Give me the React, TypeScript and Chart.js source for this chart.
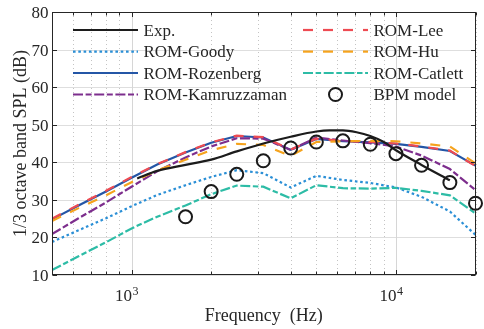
import React, { useEffect, useRef } from "react";
import { Chart, registerables } from "chart.js";

Chart.register(...registerables);

// ---- data ----
const bandFreqs = [500, 630, 800, 1000, 1250, 1600, 2000, 2500, 3150, 4000, 5000, 6300, 8000, 10000, 12500, 16000, 20000];
const romGoody = [18.8, 21.9, 25.1, 28.3, 31.3, 33.9, 36.1, 37.9, 37.1, 33.3, 36.4, 35.3, 34.5, 33.3, 30.8, 26.9, 20.7];
const romRozenberg = [24.8, 28.5, 32.2, 35.9, 39.4, 42.6, 45.2, 47.0, 46.6, 43.3, 46.2, 45.6, 45.3, 44.9, 44.1, 43.0, 39.1];
const romKamruzzaman = [20.9, 25.1, 29.3, 33.5, 37.6, 41.3, 44.2, 46.4, 46.3, 43.3, 46.6, 45.8, 45.1, 44.2, 41.8, 38.2, 32.6];
const romLee = [25.0, 28.7, 32.4, 36.1, 39.5, 42.7, 45.3, 47.1, 46.7, 43.4, 46.3, 45.7, 45.4, 45.0, 44.2, 43.1, 39.0];
const romHu = [24.4, 27.8, 31.2, 34.7, 37.8, 40.7, 43.2, 44.9, 44.6, 41.7, 45.4, 45.6, 45.7, 45.6, 45.0, 44.2, 39.7];
const romCatlett = [11.3, 15.0, 18.7, 22.4, 25.5, 28.5, 31.5, 33.8, 33.5, 30.4, 33.9, 33.1, 33.0, 33.2, 32.4, 31.2, 26.4];

const expFreqs = [1050, 1250, 1600, 2000, 2500, 3150, 4000, 5000, 5600, 6300, 7100, 8000, 9000, 10000, 12500, 16000];
const expSPL = [35.7, 37.7, 39.3, 40.7, 42.9, 45.0, 46.8, 48.2, 48.5, 48.5, 48.0, 47.0, 45.4, 43.2, 39.3, 35.2];

const bpmFreqs = [1600, 2000, 2500, 3150, 4000, 5000, 6300, 8000, 10000, 12500, 16000, 20000];
const bpmSPL = [25.5, 32.2, 36.8, 40.4, 43.8, 45.4, 45.7, 44.8, 42.3, 39.2, 34.6, 29.1];

const yTicks = [10, 20, 30, 40, 50, 60, 70, 80];
const xMajorTicks = [1000, 10000];
const xMajorExp = ["3", "4"];
const xMinorTicks = [500, 600, 700, 800, 900, 2000, 3000, 4000, 5000, 6000, 7000, 8000, 9000, 20000];

const FONT = "'Liberation Serif', 'Times New Roman', serif";
const TXT = "#262626";

const toPts = (xs: number[], ys: number[]) => xs.map((x, i) => ({ x, y: ys[i] }));

type Entry = { label: string; color: string; dash: number[]; width: number; marker?: boolean };
const legendLeft: Entry[] = [
  { label: "Exp.", color: "#1c1c1c", dash: [], width: 2.2 },
  { label: "ROM-Goody", color: "#2a8fd6", dash: [2.6, 2.7], width: 2.2 },
  { label: "ROM-Rozenberg", color: "#2456a6", dash: [], width: 2.2 },
  { label: "ROM-Kamruzzaman", color: "#7d2e8d", dash: [10, 2.6, 6, 2.6], width: 2.2 },
];
const legendRight: Entry[] = [
  { label: "ROM-Lee", color: "#ee4b52", dash: [10, 10], width: 2.2 },
  { label: "ROM-Hu", color: "#f5a31d", dash: [10, 10], width: 2.2 },
  { label: "ROM-Catlett", color: "#2dbca6", dash: [10, 2.6, 5.5, 2.6], width: 2.2 },
  { label: "BPM model", color: "#1a1a1a", dash: [], width: 2, marker: true },
];

const axesPlugin = {
  id: "matlabAxes",
  beforeDatasetsDraw(chart: any) {
    const { ctx, chartArea: a, scales } = chart;
    const xs = scales.x, ys = scales.y;
    ctx.save();
    ctx.lineWidth = 1;
    // y grid
    ctx.strokeStyle = "#dedede";
    ctx.setLineDash([]);
    yTicks.forEach((v) => {
      const y = Math.round(ys.getPixelForValue(v)) + 0.5;
      ctx.beginPath();
      ctx.moveTo(a.left, y);
      ctx.lineTo(a.right, y);
      ctx.stroke();
    });
    // x major grid
    ctx.strokeStyle = "#d6d6d6";
    xMajorTicks.forEach((v) => {
      const x = Math.round(xs.getPixelForValue(v)) + 0.5;
      ctx.beginPath();
      ctx.moveTo(x, a.top);
      ctx.lineTo(x, a.bottom);
      ctx.stroke();
    });
    // x minor grid (dotted)
    ctx.strokeStyle = "#c4c4c4";
    ctx.setLineDash([1, 3]);
    xMinorTicks.forEach((v) => {
      const x = Math.round(xs.getPixelForValue(v)) + 0.5;
      ctx.beginPath();
      ctx.moveTo(x, a.top);
      ctx.lineTo(x, a.bottom);
      ctx.stroke();
    });
    ctx.restore();
  },
  afterDraw(chart: any) {
    const { ctx, chartArea: a, scales } = chart;
    const xs = scales.x, ys = scales.y;
    ctx.save();
    ctx.setLineDash([]);
    ctx.strokeStyle = TXT;
    ctx.lineWidth = 1;
    const L = Math.round(a.left) + 0.5, R = Math.round(a.right) - 0.5;
    const T = Math.round(a.top) + 0.5, B = Math.round(a.bottom) - 0.5;
    ctx.strokeRect(L, T, R - L, B - T);
    // ticks
    const tick = (x1: number, y1: number, x2: number, y2: number) => {
      ctx.beginPath();
      ctx.moveTo(x1, y1);
      ctx.lineTo(x2, y2);
      ctx.stroke();
    };
    yTicks.forEach((v) => {
      const y = Math.round(ys.getPixelForValue(v)) + 0.5;
      tick(L, y, L + 4.5, y);
      tick(R, y, R - 4.5, y);
    });
    xMajorTicks.forEach((v) => {
      const x = Math.round(xs.getPixelForValue(v)) + 0.5;
      tick(x, B, x, B - 4.5);
      tick(x, T, x, T + 4.5);
    });
    xMinorTicks.forEach((v) => {
      const x = Math.round(xs.getPixelForValue(v)) + 0.5;
      tick(x, B, x, B - 3);
      tick(x, T, x, T + 3);
    });
    // y tick labels
    ctx.fillStyle = TXT;
    ctx.font = `17px ${FONT}`;
    ctx.textAlign = "right";
    ctx.textBaseline = "alphabetic";
    yTicks.forEach((v) => {
      const y = ys.getPixelForValue(v);
      ctx.fillText(String(v), a.left - 3.5, y + 6);
    });
    // x tick labels 10^n
    xMajorTicks.forEach((v, i) => {
      const x = xs.getPixelForValue(v);
      ctx.font = `17px ${FONT}`;
      ctx.textAlign = "right";
      ctx.fillText("10", x + 0.5, a.bottom + 25.5);
      ctx.font = `12px ${FONT}`;
      ctx.textAlign = "left";
      ctx.fillText(xMajorExp[i], x + 1, a.bottom + 19.5);
    });
    // axis titles
    ctx.font = `18px ${FONT}`;
    ctx.textAlign = "center";
    ctx.fillText("Frequency  (Hz)", (a.left + a.right) / 2, 321);
    ctx.save();
    ctx.translate(25.5, (a.top + a.bottom) / 2);
    ctx.rotate(-Math.PI / 2);
    ctx.fillText("1/3 octave band SPL (dB)", 0, 0);
    ctx.restore();
    // legend
    const rowY = [30, 51.6, 73, 94.5];
    const drawCol = (items: Entry[], x1: number, x2: number, tx: number) => {
      items.forEach((e, i) => {
        const y = rowY[i];
        ctx.strokeStyle = e.color;
        ctx.lineWidth = e.width;
        if (e.marker) {
          ctx.setLineDash([]);
          ctx.beginPath();
          ctx.arc((x1 + x2) / 2, y, 6.5, 0, Math.PI * 2);
          ctx.stroke();
        } else {
          ctx.setLineDash(e.dash);
          ctx.beginPath();
          ctx.moveTo(x1, y);
          ctx.lineTo(x2, y);
          ctx.stroke();
        }
        ctx.setLineDash([]);
        ctx.fillStyle = TXT;
        ctx.font = `17px ${FONT}`;
        ctx.textAlign = "left";
        ctx.fillText(e.label, tx, y + 5.8);
      });
    };
    drawCol(legendLeft, 73, 138, 143.5);
    drawCol(legendRight, 303, 368, 373.5);
    ctx.restore();
  },
};

export default function App() {
  const ref = useRef<HTMLCanvasElement>(null);
  useEffect(() => {
    if (!ref.current) return;
    const line = (label: string, ys: number[], e: Entry, order: number) => ({
      label,
      data: toPts(bandFreqs, ys),
      borderColor: e.color,
      backgroundColor: e.color,
      borderWidth: e.width,
      borderDash: e.dash,
      pointRadius: 0,
      fill: false,
      tension: 0,
      order,
    });
    const chart = new Chart(ref.current, {
      type: "line",
      data: {
        datasets: [
          {
            label: "BPM model",
            data: toPts(bpmFreqs, bpmSPL),
            showLine: false,
            pointRadius: 6.5,
            pointBorderWidth: 2,
            pointBorderColor: "#1a1a1a",
            pointBackgroundColor: "rgba(0,0,0,0)",
            borderColor: "#1a1a1a",
            backgroundColor: "rgba(0,0,0,0)",
            clip: false,
            order: 0,
          } as any,
          {
            label: "Exp.",
            data: toPts(expFreqs, expSPL),
            borderColor: "#1c1c1c",
            borderWidth: 2.2,
            pointRadius: 0,
            fill: false,
            cubicInterpolationMode: "monotone",
            order: 1,
          } as any,
          line("ROM-Catlett", romCatlett, legendRight[2], 2),
          line("ROM-Hu", romHu, legendRight[1], 3),
          line("ROM-Lee", romLee, legendRight[0], 4),
          line("ROM-Kamruzzaman", romKamruzzaman, legendLeft[3], 5),
          line("ROM-Rozenberg", romRozenberg, legendLeft[2], 6),
          line("ROM-Goody", romGoody, legendLeft[1], 7),
        ],
      },
      options: {
        responsive: false,
        animation: false,
        devicePixelRatio: 1,
        layout: { padding: { left: 52, right: 2, top: 12, bottom: 54 } },
        scales: {
          x: { type: "logarithmic", min: 500, max: 20000, display: false },
          y: { type: "linear", min: 10, max: 80, display: false },
        },
        plugins: { legend: { display: false }, tooltip: { enabled: false } },
      },
      plugins: [axesPlugin],
    } as any);
    return () => chart.destroy();
  }, []);
  return (
    <div style={{ position: "fixed", left: 0, top: 0, width: 484, height: 329, background: "#fff" }}>
      <canvas ref={ref} width={484} height={329} style={{ display: "block", width: 484, height: 329 }} />
    </div>
  );
}
